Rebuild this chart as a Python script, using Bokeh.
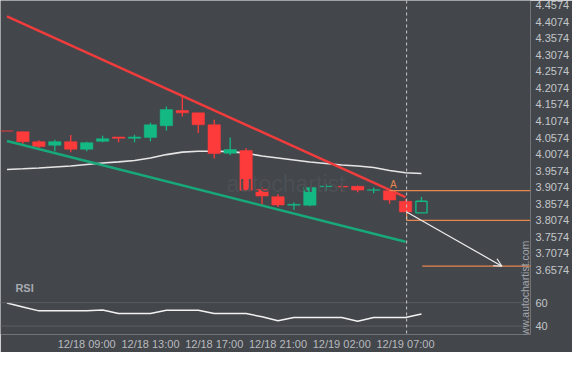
import math
from bokeh.plotting import figure
from bokeh.models import (Range1d, FixedTicker, Span, Label, Arrow, OpenHead,
                          ColumnDataSource)
from bokeh.embed import file_html
from bokeh.resources import INLINE

# ---------------- data ----------------
opens  = [4.0775, 4.0751, 4.0451, 4.0340, 4.0451, 4.0220, 4.0460, 4.0592, 4.0550, 4.0580,
          4.0931, 4.1391, 4.1322, 4.0961, 4.0100, 4.0181, 3.9009, 3.8790, 3.8529, 3.8529,
          3.9091, 3.9100, 3.9100, 3.8979, 3.8970, 3.8649, 3.8298]
highs  = [4.0775, 4.0751, 4.0490, 4.0511, 4.0652, 4.0451, 4.0631, 4.0592, 4.0661, 4.1021,
          4.1511, 4.1823, 4.1322, 4.1112, 4.0580, 4.0250, 3.9079, 3.8859, 3.8610, 3.9079,
          3.9181, 3.9169, 3.9130, 3.9069, 3.8970, 3.8709, 3.8778]
lows   = [4.0770, 4.0391, 4.0250, 4.0160, 4.0130, 4.0160, 4.0430, 4.0430, 4.0430, 4.0460,
          4.0790, 4.1211, 4.0712, 3.9940, 4.0039, 3.8949, 3.8538, 3.8478, 3.8388, 3.8500,
          3.8958, 3.8949, 3.8919, 3.8889, 3.8574, 3.8328, 3.8298]
closes = [4.0770, 4.0451, 4.0301, 4.0451, 4.0220, 4.0421, 4.0541, 4.0550, 4.0592, 4.0961,
          4.1421, 4.1322, 4.0961, 4.0091, 4.0211, 3.8979, 3.8808, 3.8538, 3.8559, 3.9069,
          3.9109, 3.9079, 3.8988, 3.9000, 3.8688, 3.8328, 3.8649]
ma_values = [3.9610, 3.9631, 3.9655, 3.9685, 3.9715, 3.9760, 3.9805, 3.9841, 3.9880, 3.9955,
             4.0060, 4.0135, 4.0159, 4.0159, 4.0150, 4.0105, 4.0015, 3.9955, 3.9895, 3.9835,
             3.9790, 3.9745, 3.9715, 3.9670, 3.9580, 3.9511, 3.9490]
rsi_values = [59.7, 56.4, 53.0, 53.0, 53.0, 53.0, 53.8, 50.7, 50.7, 50.7,
              53.6, 53.6, 53.6, 50.7, 50.7, 50.7, 47.9, 44.5, 47.3, 47.3,
              47.3, 47.3, 44.2, 47.3, 47.3, 47.3, 50.4]

time_tick_index = [5, 9, 13, 17, 21, 25]
time_tick_labels = ["12/18 09:00", "12/18 13:00", "12/18 17:00",
                    "12/18 21:00", "12/19 02:00", "12/19 07:00"]
price_tick_labels = ["4.4574", "4.4074", "4.3574", "4.3074", "4.2574", "4.2074",
                     "4.1574", "4.1074", "4.0574", "4.0074", "3.9574", "3.9074",
                     "3.8574", "3.8074", "3.7574", "3.7074", "3.6574"]
rsi_tick_values = [60, 40]

resistance_x = [0, 25]
resistance_y = [4.4235, 3.8778]
support_x = [0, 25]
support_y = [4.0472, 3.7427]

now_index = 25.07          # current bar (dashed line)
level_a_start = 24
level_a = 3.8970
level_b = 3.8070
target_start = 26.05
target_level = 3.6688
target_index = 31.05
a_label_x, a_label_y = 24.24, 3.9160

# ---------------- style ----------------
BG = "#43464b"
UP = "#14b883"
DOWN = "#fd3b3b"
ORANGE = "#e5874f"
TXT = "#c4c6ca"

n = len(opens)
idx = list(range(n))
live = n - 1  # last (forming) candle drawn hollow

x_start, x_end = -0.40625, 32.84
p_start, p_end = 3.4625, 4.4715
r_start, r_end = 32.77, 318.7

p = figure(width=572, height=352, output_backend="svg", toolbar_location=None,
           x_range=Range1d(x_start, x_end), y_range=Range1d(p_start, p_end),
           y_axis_location="right", min_border_left=0, min_border_top=0,
           min_border_right=40, min_border_bottom=0,
           background_fill_color=BG, border_fill_color=BG, outline_line_color=None)
p.extra_y_ranges = {"rsi": Range1d(r_start, r_end)}
p.grid.visible = False

# watermark
p.add_layout(Label(x=17.5, y=3.916, text="autochartist", text_font="Liberation Sans",
                   text_font_size="23px", text_color="#4c4f54", text_align="center",
                   text_baseline="middle"))

# RSI grid lines
for r in rsi_tick_values:
    p.add_layout(Span(location=r, dimension="width", y_range_name="rsi",
                      line_color="#5b5e63", line_width=1))

# moving average
p.line(idx, ma_values, line_color="#e6e6e6", line_width=1.6)

# candles
src_full = ColumnDataSource(dict(
    x=idx[:live], o=opens[:live], h=highs[:live], l=lows[:live], c=closes[:live],
    top=[max(a, b) for a, b in zip(opens[:live], closes[:live])],
    bot=[min(a, b) for a, b in zip(opens[:live], closes[:live])],
    col=[UP if c >= o else DOWN for o, c in zip(opens[:live], closes[:live])]))
p.segment(x0="x", y0="l", x1="x", y1="h", line_color="col", line_width=1.3, source=src_full)
p.vbar(x="x", width=0.78, top="top", bottom="bot", fill_color="col", line_color="col",
       line_width=0.5, source=src_full)

p.segment(x0=[live], y0=[max(opens[live], closes[live])], x1=[live], y1=[highs[live]],
          line_color=UP, line_width=1.3)
p.vbar(x=[live], width=0.7, top=[max(opens[live], closes[live])],
       bottom=[min(opens[live], closes[live])], fill_color=BG, line_color=UP, line_width=1.4)

# trend lines
p.line(resistance_x, resistance_y, line_color="#f03c3c", line_width=2.5)
p.line(support_x, support_y, line_color="#18a97a", line_width=2.5)

# levels
p.segment(x0=[level_a_start, now_index, target_start], y0=[level_a, level_b, target_level],
          x1=[x_end] * 3, y1=[level_a, level_b, target_level], line_color=ORANGE, line_width=1.3)
p.segment(x0=[now_index], y0=[closes[25]], x1=[now_index], y1=[level_b],
          line_color=ORANGE, line_width=1.3)

# forecast arrow
p.add_layout(Arrow(end=OpenHead(size=8, line_color="#eeeeee", line_width=1.2),
                   x_start=now_index, y_start=closes[25], x_end=target_index, y_end=target_level,
                   line_color="#eeeeee", line_width=1.2))

p.add_layout(Label(x=a_label_x, y=a_label_y, text="A", text_font="Liberation Sans",
                   text_font_size="10px", text_color=ORANGE, text_align="center",
                   text_baseline="middle"))

# current-time dashed line
p.add_layout(Span(location=now_index, dimension="height", line_color="#c8c8c8",
                  line_width=1, line_dash="3 3"))

# RSI
p.line(idx, rsi_values, y_range_name="rsi", line_color="#f2f2f2", line_width=1.5)
p.add_layout(Label(x=0.53, y=72.8, y_range_name="rsi", text="RSI", text_font="Liberation Sans",
                   text_font_size="11px", text_font_style="bold", text_color="#a7aab1",
                   text_baseline="middle"))

# site watermark (kept inside the frame so it is not clipped)
p.add_layout(Label(x=x_end - 0.34, y=69.4, y_range_name="rsi", text="www.autochartist.com",
                   angle=math.pi / 2, text_font="Liberation Sans", text_font_size="10.5px",
                   text_color="#a3a6ab", text_align="center", text_baseline="middle"))

# axes
price_ticks = [float(s) for s in price_tick_labels]
overrides = {v: s for v, s in zip(price_ticks, price_tick_labels)}
rsi_as_price = []
for r in rsi_tick_values:
    v = p_start + (r - r_start) / (r_end - r_start) * (p_end - p_start)
    rsi_as_price.append(v)
    overrides[v] = str(r)

ya = p.yaxis[0]
ya.ticker = FixedTicker(ticks=price_ticks + rsi_as_price)
ya.major_label_overrides = overrides
ya.axis_line_color = None
ya.major_tick_line_color = None
ya.minor_tick_line_color = None
ya.major_tick_out = 0
ya.minor_tick_out = 0
ya.major_label_standoff = 5
ya.major_label_text_font = "Liberation Sans"
ya.major_label_text_font_size = "11px"
ya.major_label_text_color = TXT

xa = p.xaxis[0]
xa.ticker = FixedTicker(ticks=time_tick_index)
xa.major_label_overrides = {i: s for i, s in zip(time_tick_index, time_tick_labels)}
xa.axis_line_color = None
xa.major_tick_line_color = None
xa.minor_tick_line_color = None
xa.major_tick_out = 0
xa.minor_tick_out = 0
xa.major_label_standoff = 3
xa.major_label_text_font = "Liberation Sans"
xa.major_label_text_font_size = "11px"
xa.major_label_text_color = "#b9bbbf"

open("out.html", "w").write(file_html(p, INLINE))
